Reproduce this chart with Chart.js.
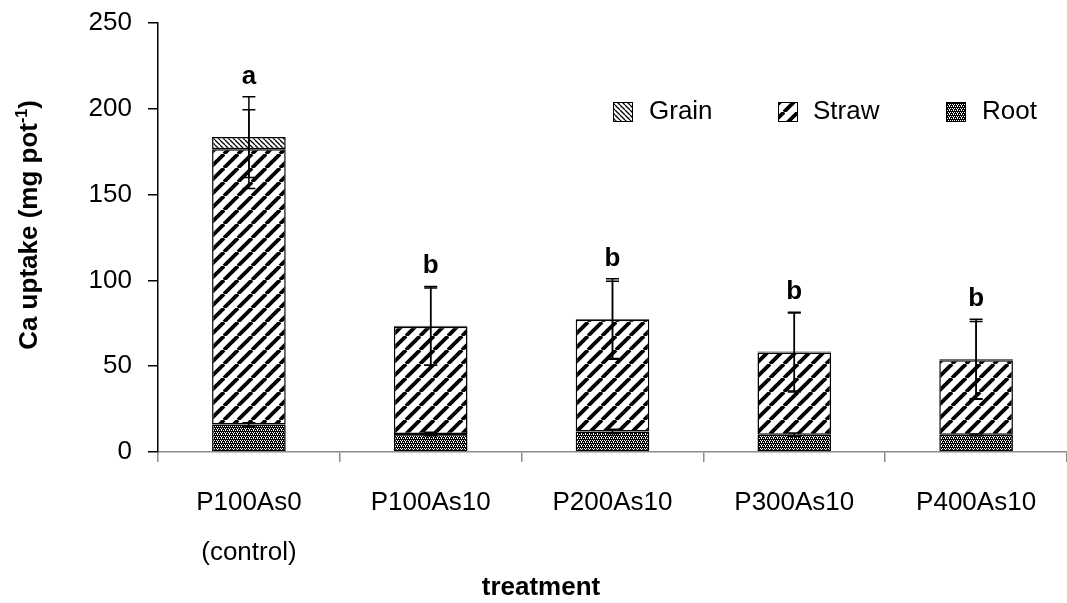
<!DOCTYPE html>
<html>
<head>
<meta charset="utf-8">
<script src="https://cdn.jsdelivr.net/npm/chart.js@4"></script>
<style>
  html, body { margin: 0; padding: 0; background: #fff; }
  #wrap { width: 1067px; height: 603px; }
</style>
</head>
<body>
<div id="wrap"><canvas id="myChart" width="1067" height="603"></canvas></div>
<script>
// data
const treatments = [['P100As0', '(control)'], 'P100As10', 'P200As10', 'P300As10', 'P400As10']
const root  = [16, 10.5, 12, 10, 10]
const straw = [160.5, 62.5, 65, 48, 43.5]
const grain = [7, 0.5, 0.5, 0.5, 0.5]
const rootErr  = [1, 1, 1.2, 1, 0.5]
const strawErr = [23, 22.5, 22.5, 23, 22.5]
const grainErr = [23.5, 23, 23.5, 23, 23.3]
const letters = ['a', 'b', 'b', 'b', 'b']
const yMax = 250, yStep = 50

const FONT = "'Liberation Sans', Arial, sans-serif"

//PATTERNS
function makeTile(size, draw) {
    const c = document.createElement('canvas')
    c.width = size; c.height = size
    const g = c.getContext('2d')
    g.fillStyle = '#fff'
    g.fillRect(0, 0, size, size)
    draw(g, size)
    return document.getElementById('myChart').getContext('2d').createPattern(c, 'repeat')
}

// thick "/" stripes
const strawPattern = makeTile(14, (g, s) => {
    g.strokeStyle = '#000'
    g.lineWidth = 3.8
    for (let k = -1; k <= 1; k++) {
        g.beginPath(); g.moveTo(k * s, s); g.lineTo(k * s + s, 0); g.stroke()
    }
})
// thin "\" lines
const grainPattern = makeTile(5, (g, s) => {
    g.strokeStyle = '#000'
    g.lineWidth = 1.3
    for (let k = -1; k <= 1; k++) {
        g.beginPath(); g.moveTo(k * s, 0); g.lineTo(k * s + s, s); g.stroke()
    }
})
// dark dotted texture
const rootPattern = makeTile(4, (g, s) => {
    g.fillStyle = '#000'
    g.fillRect(0, 0, s, s)
    g.fillStyle = '#fff'
    g.fillRect(0, 0, 1, 1); g.fillRect(2, 0, 1, 1)
    g.fillRect(1, 2, 1, 1); g.fillRect(3, 2, 1, 1)
    g.fillRect(1, 1, 1, 1)
})

//PLUGIN: error bars + letters
const errorBars = {
    id: 'errorBars',
    afterDatasetsDraw(chart) {
        const ctx = chart.ctx
        const x = chart.scales.x, y = chart.scales.y
        ctx.save()
        ctx.strokeStyle = '#000'
        ctx.lineWidth = 1.5
        const layers = [
            { vals: root, err: rootErr },
            { vals: straw, err: strawErr },
            { vals: grain, err: grainErr }
        ]
        for (let i = 0; i < treatments.length; i++) {
            let cum = 0
            let topErr = 0
            const px = x.getPixelForValue(i)
            for (const l of layers) {
                cum += l.vals[i]
                const yHi = y.getPixelForValue(cum + l.err[i])
                const yLo = y.getPixelForValue(cum - l.err[i])
                ctx.beginPath()
                ctx.moveTo(px, yHi); ctx.lineTo(px, yLo)
                ctx.moveTo(px - 6.5, yHi); ctx.lineTo(px + 6.5, yHi)
                ctx.moveTo(px - 6.5, yLo); ctx.lineTo(px + 6.5, yLo)
                ctx.stroke()
                topErr = Math.max(topErr, cum + l.err[i])
            }
            ctx.fillStyle = '#000'
            ctx.font = 'bold 26px ' + FONT
            ctx.textAlign = 'center'
            ctx.textBaseline = 'alphabetic'
            ctx.fillText(letters[i], px, y.getPixelForValue(topErr) - 13)
        }
        ctx.restore()
    }
}

//PLUGIN: legend, y title, x title
const extras = {
    id: 'extras',
    afterDraw(chart) {
        const ctx = chart.ctx
        ctx.save()
        // legend
        const items = [
            { label: 'Grain', fill: grainPattern, bx: 613, tx: 649 },
            { label: 'Straw', fill: strawPattern, bx: 778, tx: 813 },
            { label: 'Root',  fill: rootPattern,  bx: 946, tx: 982 }
        ]
        ctx.font = '26px ' + FONT
        ctx.textBaseline = 'middle'
        ctx.textAlign = 'left'
        for (const it of items) {
            ctx.fillStyle = it.fill
            ctx.fillRect(it.bx, 102, 20, 20)
            ctx.strokeStyle = '#000'
            ctx.lineWidth = 1
            ctx.strokeRect(it.bx + 0.5, 102.5, 19, 19)
            ctx.fillStyle = '#000'
            ctx.fillText(it.label, it.tx, 112)
        }
        // x title (sits left of centre in the original)
        ctx.font = 'bold 26px ' + FONT
        ctx.textAlign = 'center'
        ctx.fillText('treatment', 541, 588)
        // y title with superscript
        ctx.translate(37, 225)
        ctx.rotate(-Math.PI / 2)
        const main = 'Ca uptake (mg pot', sup = '-1', end = ')'
        const fMain = 'bold 26px ' + FONT, fSup = 'bold 16px ' + FONT
        ctx.font = fMain
        const w1 = ctx.measureText(main).width, w3 = ctx.measureText(end).width
        ctx.font = fSup
        const w2 = ctx.measureText(sup).width
        let sx = -(w1 + w2 + w3) / 2
        ctx.textAlign = 'left'
        ctx.textBaseline = 'alphabetic'
        ctx.font = fMain
        ctx.fillText(main, sx, 0)
        ctx.font = fSup
        ctx.fillText(sup, sx + w1, -10)
        ctx.font = fMain
        ctx.fillText(end, sx + w1 + w2, 0)
        ctx.restore()
    }
}

var ctx = document.getElementById('myChart').getContext('2d')
var myChart = new Chart(ctx, {
    type: 'bar',
    data: {
        labels: treatments,
        datasets: [
            { label: 'Root', data: root, backgroundColor: rootPattern, borderColor: '#000', borderWidth: 1.5, borderSkipped: false },
            { label: 'Straw', data: straw, backgroundColor: strawPattern, borderColor: '#000', borderWidth: 1.5, borderSkipped: false },
            { label: 'Grain', data: grain, backgroundColor: grainPattern, borderColor: '#000', borderWidth: 1.5, borderSkipped: false }
        ]
    },
    options: {
        responsive: false,
        animation: false,
        devicePixelRatio: 1,
        layout: { padding: { left: 0, right: 0, top: 23, bottom: 0 } },
        datasets: { bar: { barPercentage: 0.405, categoryPercentage: 1 } },
        plugins: { legend: { display: false }, tooltip: { enabled: false } },
        scales: {
            x: {
                stacked: true,
                grid: { display: true, drawOnChartArea: false, offset: true, color: '#8c8c8c', tickLength: 10, lineWidth: 1.5 },
                border: { color: '#8c8c8c', width: 1.5 },
                ticks: { color: '#000', font: { family: FONT, size: 26, lineHeight: 1.923 }, padding: 16, maxRotation: 0, autoSkip: false },
                title: { display: false },
                afterFit: s => { s.height = 151 }
            },
            y: {
                stacked: true,
                min: 0, max: yMax,
                grid: { display: true, drawOnChartArea: false, color: '#000', tickLength: 10, lineWidth: 1.5 },
                border: { color: '#000', width: 1.5 },
                ticks: { stepSize: yStep, color: '#000', font: { family: FONT, size: 26 }, padding: 16 },
                afterFit: s => { s.width = 158; s.paddingTop = 0; s.paddingBottom = 0 }
            }
        }
    },
    plugins: [errorBars, extras]
})
</script>
</body>
</html>
